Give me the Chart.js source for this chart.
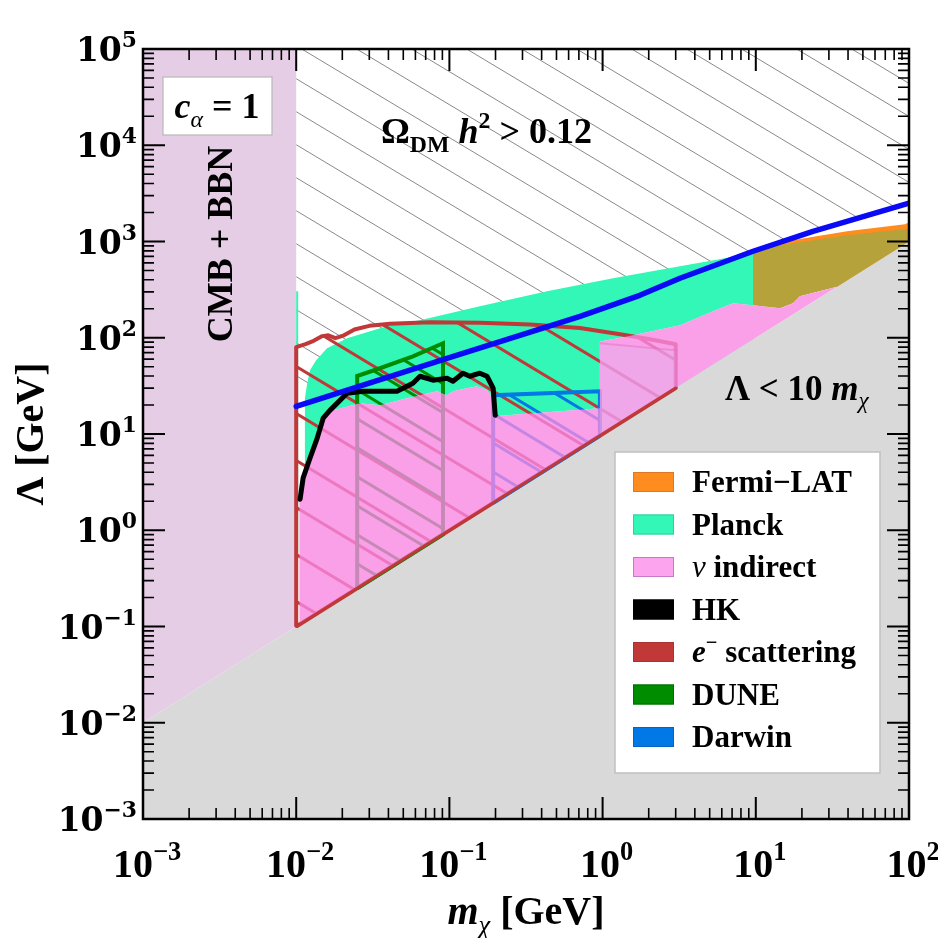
<!DOCTYPE html>
<html><head><meta charset="utf-8">
<script src="https://cdn.jsdelivr.net/npm/chart.js@4.4.1/dist/chart.umd.min.js"></script>
<style>html,body{margin:0;padding:0;background:#fff}</style>
</head><body>
<canvas id="c" width="938" height="938"></canvas>
<script>
// ---------------- data (m_chi [GeV], Lambda [GeV]) ----------------
const xDecades = [-3, -2, -1, 0, 1, 2];
const yDecades = [-3, -2, -1, 0, 1, 2, 3, 4, 5];

const cmbBbn = [[0.001,0.01],[0.001,1e5],[0.01,1e5],[0.01,0.1]];
const unitarity = [[0.001,0.001],[0.001,0.01],[100,1000],[100,0.001]];
const relic = [[0.01,19.4],[0.0964,61.2],[0.713,167],[1.75,276],[3.2,415],[9.6,792],[23.6,1277],[100,2497]];
const overTop = [[0.01,1e5],[100,1e5]];
const planckSpike = [[0.0100,0.5],[0.0100,304],[0.0103,304],[0.0103,0.5]];
const planck = [[0.0114,0.114],[0.0114,23.5],[0.0118,33.7],[0.0123,45.9],[0.0135,58.4],[0.0159,77.8],
  [0.0215,98.9],[0.0409,135],[0.0643,152],[0.158,212],[0.434,304],[1.17,415],[3.2,553],[9.6,755],[9.6,96]];
const fermi = [[9.6,773],[14.4,982],[39.4,1279],[94.2,1511],[100,1585],[100,1000],[33.9,339],[19.4,270],[17.5,228],[14.4,202],[9.6,212]];
const fermiPlanck = [[9.6,755],[14.4,914],[39.4,1161],[94.2,1340],[100,1373],[100,1000],[33.9,339],[19.4,270],[17.5,228],[14.4,202],[9.6,212]];
const nuIndirect = [[0.0105,0.105],[0.0105,2.31],[0.0114,3.47],[0.0127,5.6],[0.0141,9.0],[0.0154,14.6],[0.0174,17.7],
  [0.0261,20.9],[0.0352,19.9],[0.0528,23.5],[0.0643,25.3],[0.0830,27.8],[0.0964,25.3],[0.1055,27.8],[0.130,29.9],
  [0.151,31.3],[0.176,28.5],[0.193,23.5],[0.193,15.3],[0.96,18.5],[0.96,91.5],[1.50,104],[3.2,135],[5.26,188],
  [7.10,228],[9.6,217],[14.4,202],[17.5,228],[19.4,270],[33.9,339]];
const nuIndirect2 = [[0.96,87.7],[3.0,74],[3.0,30],[0.96,9.6]];
const eScatter = [[0.01,0.1],[0.01,80],[0.0115,86],[0.013,93],[0.0148,104],[0.0162,106],[0.018,99],[0.0205,106],
  [0.024,122],[0.030,133],[0.041,140],[0.075,145],[0.158,143],[0.336,137],[0.711,126],[1.30,109],[2.04,96.5],
  [3.0,85.6],[3.0,30],[0.01,0.1]];
const eScatterEdge = [[0.01,0.1],[3.0,30]];
const dune = [[0.025,0.25],[0.025,40],[0.0352,48.2],[0.0578,64.2],[0.0908,87.7],[0.0908,0.908],[0.025,0.25]];
const darwin = [[0.193,1.93],[0.193,25.3],[0.96,27.8],[0.96,9.6],[0.193,1.93]];
const hk = [[0.0106,2.1],[0.0111,3.5],[0.0123,5.6],[0.0137,9.0],[0.0150,14.6],[0.0166,17.6],[0.0215,26.5],
  [0.0273,27.8],[0.0455,27.8],[0.0578,33.7],[0.0643,39.8],[0.0781,36.2],[0.0964,37.9],[0.1055,35.3],
  [0.1227,42.8],[0.136,39.8],[0.158,42.8],[0.176,39.8],[0.193,29.9],[0.199,15.7]];

const legendLabels = ['Fermi−LAT','Planck','ν indirect','HK','e⁻ scattering','DUNE','Darwin'];

// ---------------- styles ----------------
const C = {
  lav:'#e6cde6', gray:'#d9d9d9', teal:'rgb(50,247,183)', orange:'rgb(255,140,30)', olive:'rgb(182,162,58)',
  pink:'rgba(248,136,226,0.8)', red:'rgb(192,56,56)', green:'rgb(0,140,0)', blue:'rgb(0,120,230)',
  relic:'rgb(10,10,245)', black:'#000'
};
const SERIF = '"Liberation Serif","Times New Roman",serif';
const YFONT = '"DejaVu Serif",serif';

function hatch(color, w, h, lw) {
  const c = document.createElement('canvas'); c.width = w; c.height = h;
  const g = c.getContext('2d');
  g.strokeStyle = color; g.lineWidth = lw; g.lineCap = 'butt';
  g.beginPath();
  for (let k = -1; k <= 1; k++) { g.moveTo(k*w - w, -h); g.lineTo(k*w + 2*w, 2*h); }
  g.stroke();
  return g.createPattern(c, 'repeat');
}
const xy = a => a.map(p => ({x:p[0], y:p[1]}));
function area(data, bg, extra) {
  return Object.assign({data: xy(data), fill:'shape', backgroundColor:bg, borderWidth:0, borderColor:'transparent', pointRadius:0}, extra||{});
}
function curve(data, color, w) {
  return {data: xy(data), fill:false, borderColor:color, borderWidth:w, pointRadius:0, borderJoinStyle:'round', borderCapStyle:'round'};
}

const layers = [
  area(unitarity, C.gray),
  area(overTop.concat(relic.slice().reverse()), hatch('rgb(125,125,125)', 55, 33, 0.9)),
  area(cmbBbn, C.lav),
  area(planckSpike, C.teal),
  area(planck, C.teal),
  area(fermi, C.orange),
  area(fermiPlanck, C.olive),
  area(nuIndirect, '#ffffff'),
  area(eScatter, hatch(C.red, 78, 47, 3), {borderColor:C.red, borderWidth:4, borderJoinStyle:'round'}),
  area(dune, hatch(C.green, 48, 29, 3), {borderColor:C.green, borderWidth:4}),
  area(darwin, hatch(C.blue, 48, 29, 3), {borderColor:C.blue, borderWidth:4}),
  area(nuIndirect, C.pink),
  area(nuIndirect2, 'rgba(215,185,235,0.3)', {borderColor:'rgba(225,110,190,0.45)', borderWidth:2}),
  curve(eScatterEdge, C.red, 3),
  curve(hk, C.black, 5),
  curve(relic, C.relic, 5.5)
];
layers.forEach((d, i) => { d.order = layers.length - i; });

// ---------------- rich text helper ----------------
function runFont(r, size, fam) {
  const s = r.s ? size * 0.66 : size;
  return (r.i ? 'italic ' : '') + (r.n ? '' : 'bold ') + s.toFixed(1) + 'px ' + (r.fam || fam);
}
function drawRich(ctx, runs, x, y, size, align, fam) {
  fam = fam || SERIF;
  let w = 0;
  for (const r of runs) { ctx.font = runFont(r, size, fam); w += ctx.measureText(r.t).width + (r.dx || 0) * size; }
  let cx = align === 'center' ? x - w/2 : align === 'right' ? x - w : x;
  ctx.textAlign = 'left'; ctx.textBaseline = 'alphabetic';
  for (const r of runs) {
    ctx.font = runFont(r, size, fam);
    const dy = r.s === 'sub' ? size * 0.24 : r.s === 'sup' ? -size * 0.42 : 0;
    ctx.fillText(r.t, cx, y + dy);
    cx += ctx.measureText(r.t).width + (r.dx || 0) * size;
  }
  return w;
}
function sup10(e) { return [{t:'10'}, {t:e, s:'sup'}]; }

const legendRuns = [
  [{t:legendLabels[0]}], [{t:legendLabels[1]}],
  [{t:'ν', i:1, n:1}, {t:' indirect'}], [{t:legendLabels[3]}],
  [{t:'e', i:1}, {t:'−', s:'sup'}, {t:' scattering'}],
  [{t:legendLabels[5]}], [{t:legendLabels[6]}]
];
const legendColors = [C.orange, C.teal, 'rgb(252,165,238)', C.black, C.red, C.green, C.blue];
const legendBorders = ['rgb(220,120,40)', 'rgb(60,200,160)', 'rgb(200,120,200)', '#000', 'rgb(170,50,50)', 'rgb(0,110,0)', 'rgb(0,100,200)'];

const decor = {
  id: 'decor',
  afterDraw(chart) {
    const ctx = chart.ctx, a = chart.chartArea, xs = chart.scales.x, ys = chart.scales.y;
    ctx.save();
    ctx.strokeStyle = '#000'; ctx.fillStyle = '#000';
    const MJ = 22, MN = 11;
    for (const d of xDecades) {
      for (let k = 1; k <= 9; k++) {
        if (d === 2 && k > 1) break;
        const px = xs.getPixelForValue(k * Math.pow(10, d));
        const L = k === 1 ? MJ : MN;
        ctx.lineWidth = k === 1 ? 2 : 1.6;
        ctx.beginPath();
        ctx.moveTo(px, a.bottom); ctx.lineTo(px, a.bottom - L);
        ctx.moveTo(px, a.top); ctx.lineTo(px, a.top + L);
        ctx.stroke();
      }
    }
    for (const d of yDecades) {
      for (let k = 1; k <= 9; k++) {
        if (d === 5 && k > 1) break;
        const py = ys.getPixelForValue(k * Math.pow(10, d));
        const L = k === 1 ? MJ : MN;
        ctx.lineWidth = k === 1 ? 2 : 1.6;
        ctx.beginPath();
        ctx.moveTo(a.left, py); ctx.lineTo(a.left + L, py);
        ctx.moveTo(a.right, py); ctx.lineTo(a.right - L, py);
        ctx.stroke();
      }
    }
    ctx.lineWidth = 2.5;
    ctx.strokeRect(a.left, a.top, a.right - a.left, a.bottom - a.top);

    for (const d of xDecades) {
      const px = xs.getPixelForValue(Math.pow(10, d));
      drawRich(ctx, sup10(d < 0 ? '−' + (-d) : String(d)), px + 4, a.bottom + 58, 40, 'center');
    }
    for (const d of yDecades) {
      const py = ys.getPixelForValue(Math.pow(10, d));
      drawRich(ctx, sup10(d < 0 ? '−' + (-d) : String(d)), a.left - 6, py + 12, 33, 'right', YFONT);
    }
    drawRich(ctx, [{t:'m', i:1}, {t:'χ', i:1, n:1, s:'sub'}, {t:' [GeV]'}], (a.left + a.right)/2, a.bottom + 105, 40, 'center');
    ctx.save(); ctx.translate(43, (a.top + a.bottom)/2); ctx.rotate(-Math.PI/2);
    drawRich(ctx, [{t:'Λ [GeV]'}], 0, 0, 40, 'center');
    ctx.restore();

    ctx.fillStyle = '#fff'; ctx.strokeStyle = '#b8b8b8'; ctx.lineWidth = 1.2;
    ctx.fillRect(163, 77, 109, 58); ctx.strokeRect(163, 77, 109, 58);
    ctx.fillStyle = '#000';
    drawRich(ctx, [{t:'c', i:1}, {t:'α', i:1, n:1, s:'sub'}, {t:' = 1'}], 217, 118, 36, 'center');
    ctx.save(); ctx.translate(232, 244); ctx.rotate(-Math.PI/2);
    drawRich(ctx, [{t:'CMB + BBN'}], 0, 0, 36, 'center');
    ctx.restore();
    drawRich(ctx, [{t:'Ω'}, {t:'DM', s:'sub'}, {t:' '}, {t:'h', i:1}, {t:'2', s:'sup'}, {t:' > 0.12'}], 381, 143, 36, 'left');
    drawRich(ctx, [{t:'Λ < 10 '}, {t:'m', i:1}, {t:'χ', i:1, n:1, s:'sub'}], 725, 400, 35, 'left');

    ctx.fillStyle = '#fff'; ctx.strokeStyle = '#c0c0c0'; ctx.lineWidth = 1.5;
    ctx.fillRect(615, 452, 265, 321); ctx.strokeRect(615, 452, 265, 321);
    for (let i = 0; i < legendRuns.length; i++) {
      const cy = 482 + i * 42.5;
      ctx.fillStyle = legendColors[i]; ctx.fillRect(633, cy - 10, 41, 20);
      ctx.strokeStyle = legendBorders[i]; ctx.lineWidth = 1; ctx.strokeRect(633.5, cy - 9.5, 40, 19);
      ctx.fillStyle = '#000';
      drawRich(ctx, legendRuns[i], 692, cy + 10, 31, 'left');
    }
    ctx.restore();
  }
};

new Chart(document.getElementById('c'), {
  type: 'line',
  data: { datasets: layers },
  options: {
    responsive: false, animation: false, events: [],
    layout: { padding: { left: 143, top: 49, right: 29, bottom: 119 } },
    scales: {
      x: { type: 'logarithmic', min: 1e-3, max: 1e2, display: false },
      y: { type: 'logarithmic', min: 1e-3, max: 1e5, display: false }
    },
    plugins: { legend: { display: false }, tooltip: { enabled: false } },
    elements: { point: { radius: 0 }, line: { tension: 0 } }
  },
  plugins: [decor]
});
</script>
</body></html>
